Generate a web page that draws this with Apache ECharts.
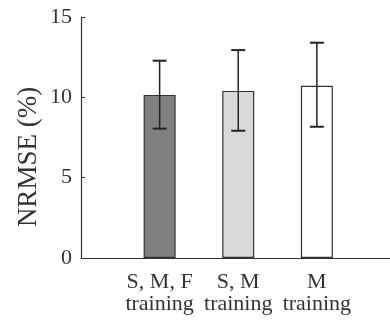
<!DOCTYPE html>
<html>
<head>
<meta charset="utf-8">
<script src="https://cdn.jsdelivr.net/npm/echarts@6/dist/echarts.min.js"></script>
<style>
  html, body { margin: 0; padding: 0; background: #fff; }
  #chart { width: 390px; height: 325px; }
</style>
</head>
<body>
<div id="chart"></div>
<script>
// Training conditions and their NRMSE results
const categories = ['S, M, F\ntraining', 'S, M\ntraining', 'M\ntraining'];
const meanNRMSE = [10.15, 10.4, 10.72];
const errUpper = [12.28, 12.94, 13.4];
const errLower = [8.05, 7.92, 8.17];
const barColors = ['#808080', '#d9d9d9', '#ffffff'];
const yTicks = [0, 5, 10, 15];

const font = '"Liberation Serif", "DejaVu Serif", serif';
const textColor = '#333';

const barData = meanNRMSE.map((v, i) => ({
  value: [i + 1, v],
  itemStyle: { color: barColors[i] }
}));
const errData = meanNRMSE.map((v, i) => [i + 1, errLower[i], errUpper[i]]);

const chart = echarts.init(document.getElementById('chart'));
chart.setOption({
  animation: false,
  grid: { left: 81, right: 0, top: 17, bottom: 67 },
  xAxis: {
    type: 'value',
    min: 0,
    max: 3.93,
    interval: 1,
    splitLine: { show: false },
    axisLine: { show: true, lineStyle: { color: '#333', width: 1.2 } },
    axisTick: { show: false },
    axisLabel: {
      showMaxLabel: false,
      showMinLabel: false,
      margin: 13,
      lineHeight: 22,
      fontFamily: font,
      fontSize: 22,
      color: textColor,
      formatter: v => categories[Math.round(v) - 1] || ''
    }
  },
  yAxis: {
    type: 'value',
    min: yTicks[0],
    max: yTicks[yTicks.length - 1],
    interval: 5,
    splitLine: { show: false },
    axisLine: { show: true, lineStyle: { color: '#333', width: 1.2 } },
    axisTick: { show: true, inside: true, length: 4, lineStyle: { color: '#333' } },
    axisLabel: {
      margin: 9,
      fontFamily: font,
      fontSize: 22,
      color: textColor
    }
  },
  graphic: [{
    type: 'text',
    x: 29,
    y: 157,
    rotation: Math.PI / 2,
    style: {
      text: 'NRMSE (%)',
      fontFamily: font,
      fontSize: 27,
      fill: textColor,
      align: 'center',
      verticalAlign: 'middle'
    }
  }],
  series: [
    {
      type: 'bar',
      data: barData,
      barWidth: 32,
      itemStyle: { borderColor: '#333', borderWidth: 1.2 }
    },
    {
      type: 'custom',
      data: errData,
      renderItem: (params, api) => {
        const x = api.value(0);
        const lo = api.coord([x, api.value(1)]);
        const hi = api.coord([x, api.value(2)]);
        const half = 7;
        const style = { stroke: '#222', lineWidth: 1.5 };
        return {
          type: 'group',
          children: [
            { type: 'line', shape: { x1: lo[0], y1: lo[1], x2: hi[0], y2: hi[1] }, style },
            { type: 'line', shape: { x1: hi[0] - half, y1: hi[1], x2: hi[0] + half, y2: hi[1] }, style: { stroke: '#222', lineWidth: 2 } },
            { type: 'line', shape: { x1: lo[0] - half, y1: lo[1], x2: lo[0] + half, y2: lo[1] }, style: { stroke: '#222', lineWidth: 2 } }
          ]
        };
      },
      z: 5
    }
  ]
});
</script>
</body>
</html>
